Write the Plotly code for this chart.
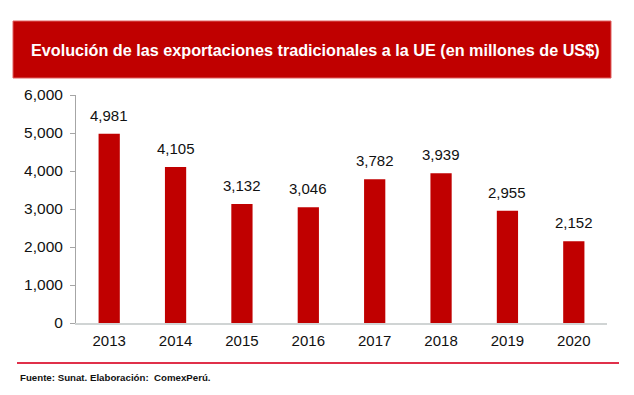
import plotly.graph_objects as go

years = ["2013", "2014", "2015", "2016", "2017", "2018", "2019", "2020"]
values = [4981, 4105, 3132, 3046, 3782, 3939, 2955, 2152]
labels = ["4,981", "4,105", "3,132", "3,046", "3,782", "3,939", "2,955", "2,152"]
title_text = "Evolución de las exportaciones tradicionales a la UE (en millones de US$)"
source_text = "Fuente: Sunat. Elaboración:  ComexPerú."

W, H = 634, 395
L, R, T, B = 76, 27, 95, 72
pw, ph = W - L - R, H - T - B

def px(x):
    return (x - L) / pw

def py(y):
    return (H - B - y) / ph

fig = go.Figure()
fig.add_trace(go.Bar(
    x=years, y=values,
    marker=dict(color="#C00000", line=dict(width=0)),
    width=0.32, hoverinfo="x+y",
))

# category axis: annotation x given as category index
label_annotations = [
    dict(x=i, y=v, text=lab, xref="x", yref="y", showarrow=False,
         xanchor="center", yanchor="bottom", yshift=8,
         font=dict(family="Liberation Sans, Arial", size=15, color="#111111"))
    for i, (v, lab) in enumerate(zip(values, labels))
]

fig.update_layout(
    width=W, height=H,
    margin=dict(l=L, r=R, t=T, b=B),
    paper_bgcolor="white", plot_bgcolor="white",
    showlegend=False,
    font=dict(family="Liberation Sans, Arial", size=15, color="#111111"),
    xaxis=dict(type="category", categoryorder="array", categoryarray=years,
               range=[-0.5, len(years) - 0.5],
               showline=True, linecolor="#D0D4D4", linewidth=2, ticks="",
               tickfont=dict(size=15), showgrid=False, ticklabelstandoff=3),
    yaxis=dict(range=[0, 6000], tickvals=[0, 1000, 2000, 3000, 4000, 5000, 6000],
               tickformat=",", showline=True, linecolor="#A6A6A6", linewidth=1,
               ticks="outside", ticklen=5, tickcolor="#A6A6A6", showgrid=False,
               tickfont=dict(size=15.5), zeroline=False, ticklabelstandoff=4),
    shapes=[
        dict(type="rect", xref="paper", yref="paper",
             x0=px(13), x1=px(611), y0=py(78), y1=py(21),
             fillcolor="#C00000", line=dict(color="#E06060", width=1)),
        dict(type="line", xref="paper", yref="paper",
             x0=px(17), x1=px(619), y0=py(363), y1=py(363),
             line=dict(color="#E0304A", width=2)),
    ],
    annotations=label_annotations + [
        dict(text=f"<b>{title_text}</b>", xref="paper", yref="paper",
             x=px(315), y=py(49.5), xanchor="center", yanchor="middle",
             showarrow=False, font=dict(family="Liberation Sans, Arial", size=16.2, color="white")),
        dict(text=f"<b>{source_text}</b>", xref="paper", yref="paper",
             x=px(18), y=py(377), xanchor="left", yanchor="middle",
             showarrow=False, font=dict(family="Liberation Sans, Arial", size=9.7, color="#111111")),
    ],
)

fig.write_html("out.html", config={"displayModeBar": False},
               post_script="document.body.style.margin='0';")
